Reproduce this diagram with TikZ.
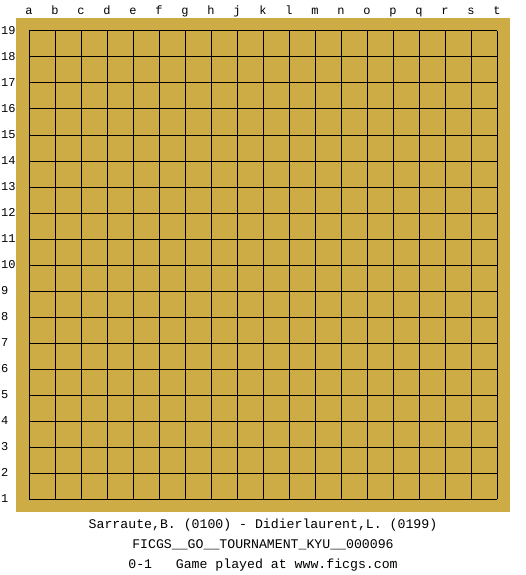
\documentclass[tikz,border=0pt]{standalone}
\usepackage{fontspec}
\setmonofont{Liberation Mono}
\definecolor{board}{RGB}{205,171,69}
\begin{document}
\begin{tikzpicture}[x=1pt,y=-1pt,
  lbl/.style={font=\ttfamily\fontsize{12}{12}\selectfont, inner sep=0pt},
  captext/.style={font=\ttfamily\fontsize{13.2}{13.2}\selectfont, inner sep=0pt, anchor=base},
  gridline/.style={line width=1pt, black}]
\useasboundingbox (0,0) rectangle (525,575);
\fill[white] (0,0) rectangle (525,575);
\fill[board] (16,18) rectangle (510,512);
\foreach \i in {0,...,18} {
  \draw[gridline] (29+26*\i,31) -- (29+26*\i,499);
  \draw[gridline] (29,31+26*\i) -- (497,31+26*\i);
}
\foreach \l [count=\k from 0] in {a,b,c,d,e,f,g,h,j,k,l,m,n,o,p,q,r,s,t} {
  \node[lbl, anchor=base] (col\l) at (29+26*\k,14.5) {\l};
}
\foreach \k in {0,...,18} {
  \pgfmathtruncatemacro{\r}{19-\k}
  \node[lbl, anchor=base west] (row\r) at (1,34.5+26*\k) {\r};
}
\node[captext] (players) at (263,528.5) {Sarraute,B. (0100) - Didierlaurent,L. (0199)};
\node[captext] (event) at (263,548.5) {FICGS\_\_GO\_\_TOURNAMENT\_KYU\_\_000096};
\node[captext] (result) at (263,568.5) {0-1\ \ \ Game played at www.ficgs.com};
\end{tikzpicture}
\end{document}
